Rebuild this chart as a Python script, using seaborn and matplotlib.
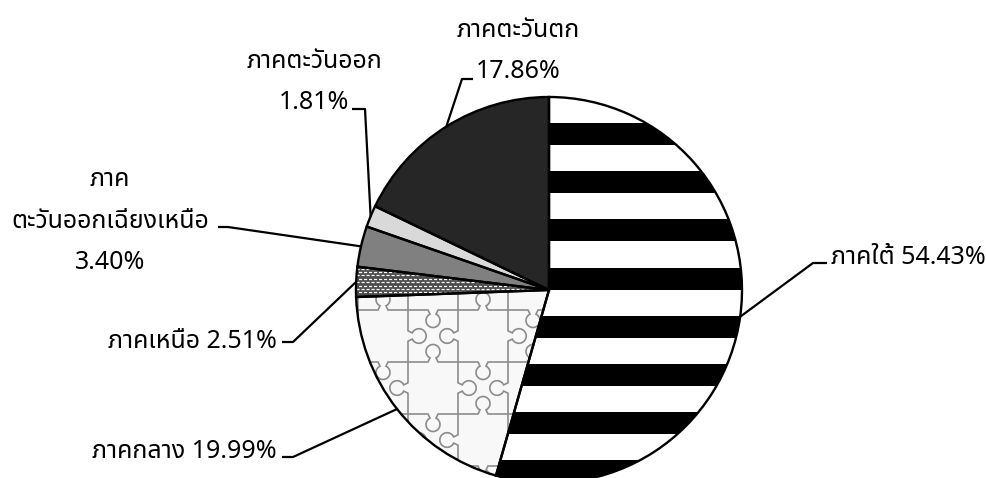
import matplotlib
matplotlib.use("Agg")
import numpy as np
import matplotlib.pyplot as plt
from matplotlib.patches import Rectangle, Wedge
from matplotlib.path import Path
from matplotlib.patches import PathPatch
import seaborn as sns

# Share of each region (percent), clockwise from 12 o'clock
regions = ["ภาคใต้", "ภาคกลาง", "ภาคเหนือ", "ภาค\nตะวันออกเฉียงเหนือ", "ภาคตะวันออก", "ภาคตะวันตก"]
shares = [54.43, 19.99, 2.51, 3.40, 1.81, 17.86]
label_sep = [" ", " ", " ", "\n", "\n", "\n"]

fill_colors = ["#ffffff", "#f8f8f8", "#4d4d4d", "#808080", "#d9d9d9", "#262626"]

sns.set_theme(style="white")
plt.rcParams["font.family"] = ["Noto Sans Thai", "Anuphan", "IBM Plex Sans Thai", "DejaVu Sans"]

W, H = 987, 478
CX, CY, R = 549, 290, 193  # pie centre and radius in pixels


def P(x, y):
    """pixel position -> data position (pie radius = 1)"""
    return ((x - CX) / R, (CY - y) / R)


fig = plt.figure(figsize=(W / 100, H / 100), dpi=100)
ax = fig.add_axes([0, 0, 1, 1])

wedges, _ = ax.pie(shares, startangle=90, counterclock=False, radius=1,
                   center=(0, 0), colors=fill_colors,
                   wedgeprops=dict(edgecolor="none", linewidth=0))
ax.set_aspect("auto")
ax.set_xlim(P(0, 0)[0], P(W, 0)[0])
ax.set_ylim(P(0, H)[1], P(0, 0)[1])
ax.axis("off")

south, central, north = wedges[0], wedges[1], wedges[2]

# horizontal black bands on the south slice
period, band = 48.2, 22
for k in range(-1, 10):
    y0 = 123 + k * period
    x_left, y_top = P(CX - R - 5, y0)
    _, y_bot = P(0, y0 + band)
    rect = Rectangle((x_left, y_bot), 2.2, y_top - y_bot, facecolor="black",
                     edgecolor="none", zorder=2)
    rect.set_clip_path(south)
    ax.add_patch(rect)

# fine dashed texture on the north slice
for k, y in enumerate(np.arange(255, 310, 3.4)):
    xa, ya = P(CX - R - 5, y)
    xb, _ = P(CX + 5, y)
    ln, = ax.plot([xa, xb], [ya, ya], color="white", lw=0.9,
                  linestyle=(2.0 * (k % 2), (2.5, 1.5)), zorder=2)
    ln.set_clip_path(north)


# jigsaw outlines on the central slice
def knob_edge(a, b, s):
    a, b = np.asarray(a, float), np.asarray(b, float)
    d = b - a
    n = np.array([-d[1], d[0]]) * s
    pts = [(0, 0), (0.40, 0)]
    ang = np.radians(np.linspace(245, -65, 36))
    pts += [(0.5 + 0.14 * np.cos(t), 0.21 + 0.14 * np.sin(t)) for t in ang]
    pts += [(0.60, 0), (1, 0)]
    return [a + t * d + h * n for t, h in pts]


xs = [358, 408, 458, 508, 558]
ys = [258, 310, 362, 414, 466, 518]
for j, y in enumerate(ys):
    for i in range(len(xs) - 1):
        s = 1 if (i + j) % 2 == 0 else -1
        pts = [P(*p) for p in knob_edge((xs[i], y), (xs[i + 1], y), s)]
        pp = PathPatch(Path(pts), facecolor="none", edgecolor="#8c8c8c", lw=1.2, zorder=2)
        pp.set_clip_path(central)
        ax.add_patch(pp)
for i, x in enumerate(xs):
    for j in range(len(ys) - 1):
        s = 1 if (i + j) % 2 else -1
        pts = [P(*p) for p in knob_edge((x, ys[j]), (x, ys[j + 1]), s)]
        pp = PathPatch(Path(pts), facecolor="none", edgecolor="#8c8c8c", lw=1.2, zorder=2)
        pp.set_clip_path(central)
        ax.add_patch(pp)

# black outlines on top of the fills
for w in wedges:
    ax.add_patch(Wedge(w.center, w.r, w.theta1, w.theta2, facecolor="none",
                       edgecolor="black", lw=1.7, zorder=5))

# labels: text position, elbow start, elbow end (pixels)
label_layout = [
    dict(xy=(831, 258), ha="left", elbow=[(827, 263), (813, 263)]),
    dict(xy=(277, 451), ha="right", elbow=[(282, 457), (293, 457)]),
    dict(xy=(277, 341), ha="right", elbow=[(282, 342), (293, 342)]),
    dict(xy=(110, 221), ha="center", elbow=[(218, 227), (228, 227)]),
    dict(xy=(314, 82), ha="center", elbow=[(352, 109), (365, 109)]),
    dict(xy=(518, 51), ha="center", elbow=[(473, 79), (462, 79)]),
]

for w, name, val, sep, lay in zip(wedges, regions, shares, label_sep, label_layout):
    mid = np.radians((w.theta1 + w.theta2) / 2)
    anchor = (w.r * np.cos(mid), w.r * np.sin(mid))
    e0, e1 = P(*lay["elbow"][0]), P(*lay["elbow"][1])
    ax.plot([e0[0], e1[0], anchor[0]], [e0[1], e1[1], anchor[1]],
            color="black", lw=1.6, solid_capstyle="butt", zorder=6)
    tx, ty = P(*lay["xy"])
    ax.text(tx, ty, f"{name}{sep}{val:.2f}%", ha=lay["ha"], va="center",
            multialignment="center", fontsize=18, color="black",
            linespacing=1.85, zorder=7)

fig.savefig("out.png", dpi=100)
